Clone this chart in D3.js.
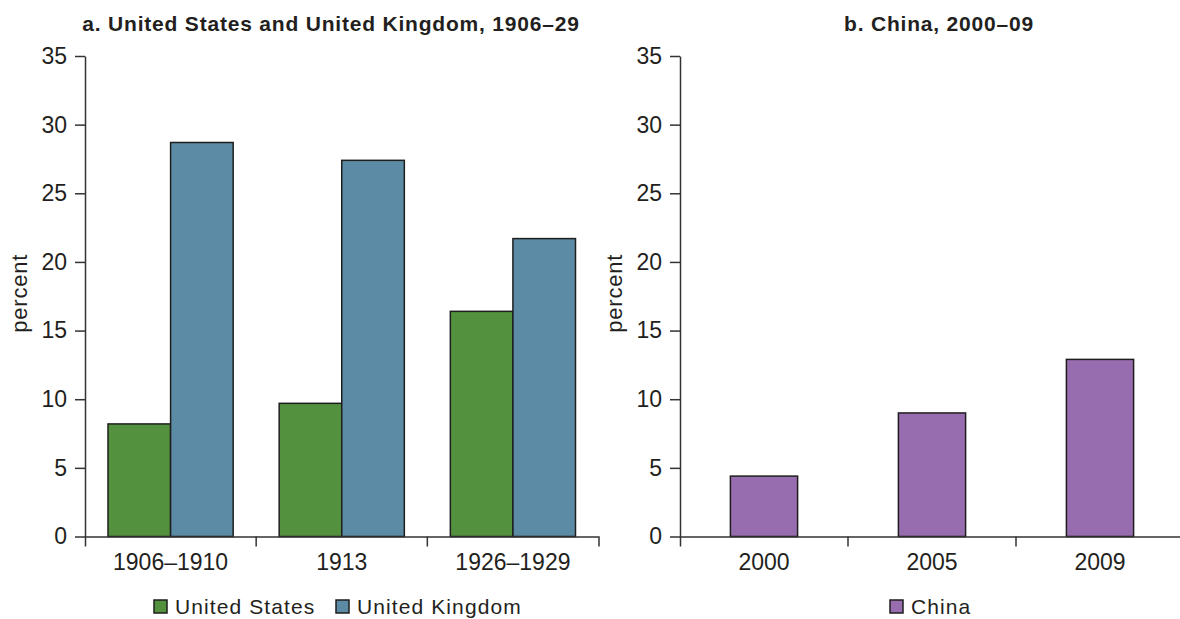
<!DOCTYPE html>
<html>
<head>
<meta charset="utf-8">
<script src="https://cdn.jsdelivr.net/npm/d3@7"></script>
<style>
  body { margin: 0; background: #fff; }
  svg { display: block; font-family: "Liberation Sans", Arial, sans-serif; }
  .tick text { font-size: 23px; fill: #231f20; }
  .domain, .tick line { stroke: #333; stroke-width: 1.5; }
</style>
</head>
<body>
<script>
// values (percent)
const ukusCategories = ['1906–1910', '1913', '1926–1929'];
const ukusSeries = ['United States', 'United Kingdom'];
const usValues = [8.2, 9.7, 16.4];
const ukValues = [28.7, 27.4, 21.7];

const chinaCategories = ['2000', '2005', '2009'];
const chinaValues = [4.4, 9.0, 12.9];

const yTicks = [0, 5, 10, 15, 20, 25, 30, 35];

const colours = { 'United States': '#53913f', 'United Kingdom': '#5c8ba5', 'China': '#986daf' };

const width = 1180, height = 619;
const yTop = 56, yBottom = 536.5;

const svg = d3.select('body').append('svg')
  .attr('width', width)
  .attr('height', height);

const y = d3.scaleLinear().domain([0, 35]).range([yBottom, yTop]);

// draws a y axis, x axis (ticks at band edges), axis title
function drawAxes(x, left) {
  svg.append('g')
    .attr('transform', 'translate(' + left + ',0)')
    .call(d3.axisLeft(y).tickValues(yTicks).tickSize(10).tickSizeOuter(0).tickPadding(8));

  const xAxis = svg.append('g')
    .attr('transform', 'translate(0,' + yBottom + ')')
    .call(d3.axisBottom(x).tickSizeInner(0).tickSizeOuter(10).tickPadding(17));

  // ticks between the categories
  xAxis.selectAll('line.edge')
    .data(x.domain().slice(1))
    .enter()
    .append('line')
    .attr('class', 'edge')
    .attr('x1', d => x(d)).attr('x2', d => x(d))
    .attr('y1', 0).attr('y2', 10)
    .attr('stroke', '#333').attr('stroke-width', 1.5);

  svg.append('text')
    .attr('transform', 'translate(' + (left - 58) + ',' + ((yTop + yBottom) / 2 - 3) + ') rotate(-90)')
    .attr('text-anchor', 'middle')
    .style('font-size', '22px')
    .style('letter-spacing', '0.8px')
    .attr('fill', '#231f20')
    .text('percent');
}

function legend(items, xs) {
  items.forEach((name, i) => {
    svg.append('rect')
      .attr('x', xs[i]).attr('y', 600)
      .attr('width', 13).attr('height', 13)
      .attr('fill', colours[name])
      .attr('stroke', '#1e1e1e').attr('stroke-width', 1.5);
    svg.append('text')
      .attr('x', xs[i] + 21).attr('y', 613.5)
      .style('font-size', '21px')
      .style('letter-spacing', '1.1px')
      .attr('fill', '#231f20')
      .text(name);
  });
}

function title(text, cx) {
  svg.append('text')
    .attr('x', cx).attr('y', 31)
    .attr('text-anchor', 'middle')
    .style('font-size', '21px')
    .style('font-weight', 'bold')
    .style('letter-spacing', '0.8px')
    .attr('fill', '#231f20')
    .text(text);
}

// panel a
const xa = d3.scaleBand().domain(ukusCategories).range([85, 598.5]);
const xa1 = d3.scaleBand().domain(ukusSeries).range([23, xa.bandwidth() - 23]);

const ukusRows = ukusCategories.map((c, i) => ({ cat: c, values: [usValues[i], ukValues[i]] }));

svg.append('g').selectAll('g')
  .data(ukusRows)
  .enter()
  .append('g')
  .attr('transform', d => 'translate(' + xa(d.cat) + ',0)')
  .selectAll('rect')
  .data(d => d.values.map((v, j) => ({ series: ukusSeries[j], value: v })))
  .enter()
  .append('rect')
  .attr('x', d => xa1(d.series))
  .attr('y', d => y(d.value))
  .attr('width', xa1.bandwidth())
  .attr('height', d => y(0) - y(d.value))
  .attr('fill', d => colours[d.series])
  .attr('stroke', '#1e1e1e')
  .attr('stroke-width', 1.5);

drawAxes(xa, 85);
title('a. United States and United Kingdom, 1906–29', 331);
legend(ukusSeries, [154, 336]);

// panel b
const xb = d3.scaleBand().domain(chinaCategories).range([680, 1184]);
const barW = xb.bandwidth() * 0.4;

svg.append('g').selectAll('rect')
  .data(chinaCategories.map((c, i) => ({ cat: c, value: chinaValues[i] })))
  .enter()
  .append('rect')
  .attr('x', d => xb(d.cat) + (xb.bandwidth() - barW) / 2)
  .attr('y', d => y(d.value))
  .attr('width', barW)
  .attr('height', d => y(0) - y(d.value))
  .attr('fill', colours['China'])
  .attr('stroke', '#1e1e1e')
  .attr('stroke-width', 1.5);

drawAxes(xb, 680);
title('b. China, 2000–09', 939);
legend(['China'], [890]);
</script>
</body>
</html>
